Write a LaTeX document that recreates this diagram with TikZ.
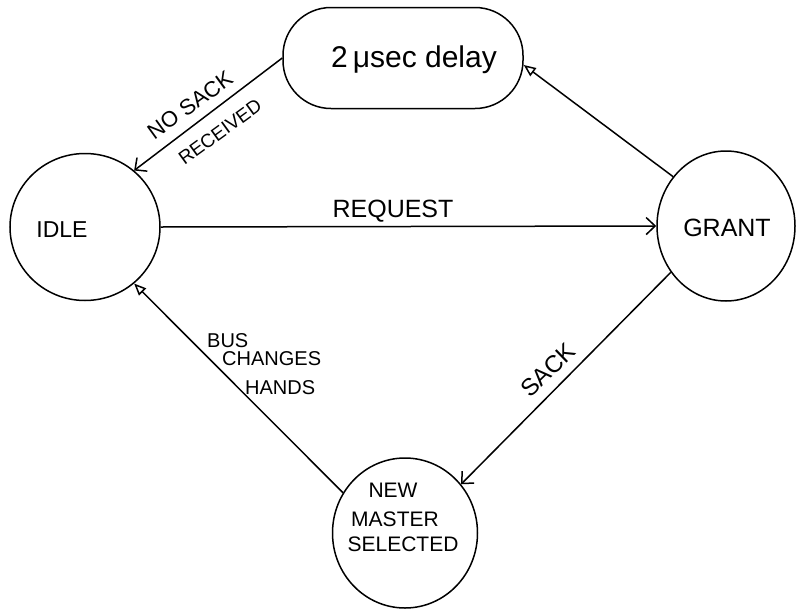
\documentclass[tikz,border=0pt]{standalone}
\usepackage{fontspec}
\setmainfont{Liberation Sans}
\usetikzlibrary{arrows.meta,shapes.geometric}
\begin{document}
\begin{tikzpicture}[x=1pt,y=-1pt,
  state/.style={ellipse,draw,line width=1.5pt,inner sep=0pt},
  txt/.style={inner sep=0pt,font=\fontsize{#1}{#1}\selectfont},
  txt/.default=20,
  edge/.style={line width=1.5pt},
  barb/.style={edge,-{Straight Barb[length=9pt,width=17pt,line width=1.5pt]}},
  tri/.style={edge,-{Triangle[open,length=12pt,width=10pt,line width=1.5pt]}}]
\useasboundingbox (0,0) rectangle (796,611);

% states
\node[state,minimum width=150pt,minimum height=147pt] (idle) at (85,227) {};
\node[state,minimum width=138pt,minimum height=150pt] (grant) at (726,226) {};
\node[state,minimum width=145pt,minimum height=150pt] (newm) at (405,533) {};
\node[draw,line width=1.5pt,rounded corners=48pt,minimum width=240pt,
      minimum height=101pt] (delay) at (403,58) {};

% state texts
\node[txt=23] (tidle) at (62,230) {IDLE};
\node[txt=25] (tgrant) at (727,228) {GRANT};
\node[txt=30] (tdelay) at (414,60) {2\,μsec delay};
\node[txt=21] (tnew) at (393,490) {NEW};
\node[txt=21] (tmaster) at (395,519) {MASTER};
\node[txt=21] (tsel) at (403,544) {SELECTED};

% transitions
\draw[barb] (delay.west) -- (idle.49);
\draw[barb] (idle.east) -- (grant.west);
\draw[tri] (grant.137) -- ([yshift=-7pt]delay.east);
\draw[barb] (grant.220) -- (newm.41);
\draw[tri] (newm.147) -- (idle.-49);

% transition labels
\node[txt=22,rotate=36] (lnosack) at (190,105) {NO SACK};
\node[txt=19,rotate=36] (lrecv) at (220,132) {RECEIVED};
\node[txt=25] (lreq) at (393,211) {REQUEST};
\node[txt=24,rotate=44] (lsack) at (548,370) {SACK};
\node[txt,anchor=west] (lbus) at (207,341) {BUS};
\node[txt,anchor=west] (lchg) at (222,359) {CHANGES};
\node[txt,anchor=west] (lhands) at (245,388) {HANDS};
\end{tikzpicture}
\end{document}
